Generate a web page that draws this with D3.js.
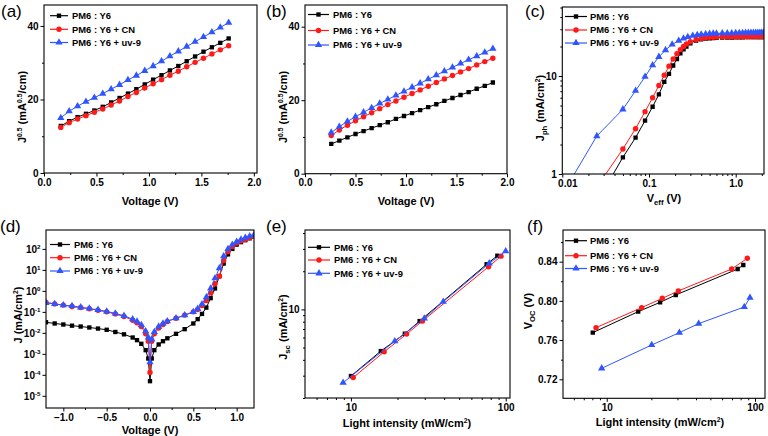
<!DOCTYPE html>
<html><head><meta charset="utf-8">
<script src="https://cdn.jsdelivr.net/npm/d3@7"></script>
<style>body{margin:0;background:#fff}svg{display:block}</style>
</head><body>
<script>
// ---------- DATA ----------
const legendNames = ["PM6 : Y6", "PM6 : Y6 + CN", "PM6 : Y6 + uv-9"];

// (a) hole-only SCLC
const aVoltage = [0.16,0.24,0.32,0.40,0.48,0.56,0.64,0.72,0.80,0.88,0.96,1.04,1.12,1.20,1.28,1.36,1.44,1.52,1.60,1.68,1.76];
const aY6 = [12.8,14.1,15.2,16.1,17.0,18.0,19.2,20.4,21.6,22.8,24.1,25.4,26.6,27.9,29.1,30.4,31.7,33.0,34.2,35.4,36.6];
const aCN = [12.4,13.7,14.7,15.6,16.5,17.4,18.5,19.6,20.8,21.9,23.1,24.3,25.4,26.6,27.7,28.9,30.1,31.2,32.4,33.5,34.6];
const aUV = [15.0,16.8,18.2,19.4,20.5,21.6,22.8,24.0,25.3,26.5,27.8,29.1,30.4,31.8,33.1,34.4,35.7,37.0,38.3,39.6,40.9];

// (b) electron-only SCLC
const bVoltage = [0.26,0.34,0.42,0.50,0.58,0.66,0.74,0.82,0.90,0.98,1.06,1.14,1.22,1.30,1.38,1.46,1.54,1.62,1.70,1.78,1.86];
const bY6 = [8.1,9.0,9.9,10.8,11.6,12.4,13.2,14.0,14.9,15.7,16.5,17.3,18.1,18.9,19.8,20.6,21.4,22.2,23.1,23.9,24.8];
const bCN = [10.4,11.9,13.2,14.4,15.5,16.6,17.7,18.8,19.8,20.8,21.8,22.8,23.8,24.8,25.8,26.7,27.7,28.6,29.6,30.5,31.4];
const bUV = [11.2,12.8,14.2,15.5,16.7,17.9,19.1,20.2,21.3,22.4,23.5,24.6,25.7,26.8,27.9,28.9,30.0,31.0,32.0,33.0,34.0];

// (c) Jph vs Veff
const cVeff = [0.03,0.05,0.07,0.09,0.11,0.13,0.15,0.17,0.19,0.21,0.23,0.25,0.27,0.30,0.35,0.40,0.45,0.50,0.55,0.60,0.70,0.80,0.90,1.00,1.10,1.20,1.30,1.40,1.50,1.60,1.70,1.80,1.90,2.00,2.10];
const cY6 = [0.68,1.48,2.35,3.5,4.85,6.5,8.7,10.5,12.8,14.9,17.0,18.7,20.0,21.6,23.0,23.7,24.1,24.3,24.4,24.5,24.6,24.7,24.7,24.8,24.8,24.8,24.9,24.9,24.9,24.9,25.0,25.0,25.0,25.0,25.0];
const cCN = [0.93,1.8,2.9,4.33,6.0,8.0,10.2,12.6,14.9,16.9,18.6,20.0,21.2,22.4,23.6,24.2,24.6,24.8,24.9,25.0,25.1,25.2,25.2,25.2,25.3,25.3,25.3,25.3,25.4,25.4,25.4,25.4,25.4,25.4,25.4];
const cVeffUV = [0.01,0.025,0.05,0.07,0.09,0.11,0.13,0.155,0.185,0.22,0.25,0.28,0.32,0.36,0.40,0.45,0.50,0.55,0.60,0.70,0.80,0.90,1.00,1.10,1.20,1.30,1.40,1.50,1.60,1.70,1.80,1.90,2.00,2.10];
const cUV = [0.62,2.44,4.57,7.08,9.84,12.9,15.7,18.4,21.0,22.9,24.2,25.1,25.8,26.3,26.6,26.8,27.0,27.1,27.2,27.3,27.4,27.4,27.5,27.5,27.5,27.6,27.6,27.6,27.6,27.7,27.7,27.7,27.7,27.7];

// (d) dark J-V
const dVoltage = [-1.2,-1.1,-1.0,-0.9,-0.8,-0.7,-0.6,-0.5,-0.4,-0.3,-0.2,-0.15,-0.1,-0.05,-0.02,0,0.02,0.05,0.1,0.15,0.2,0.3,0.4,0.5,0.55,0.6,0.65,0.7,0.75,0.8,0.85,0.9,0.95,1.0,1.05,1.1,1.15,1.2];
const dY6 = [0.032,0.028,0.025,0.022,0.020,0.018,0.016,0.014,0.011,0.0085,0.006,0.0045,0.003,0.0015,0.0006,0.00005,0.0006,0.0015,0.0028,0.004,0.0055,0.009,0.015,0.028,0.045,0.08,0.16,0.45,1.3,5,20,55,100,160,210,260,320,380];
const dCN = [0.28,0.24,0.21,0.18,0.16,0.14,0.12,0.10,0.08,0.06,0.04,0.03,0.02,0.009,0.004,0.00013,0.004,0.009,0.017,0.025,0.035,0.05,0.07,0.1,0.13,0.2,0.35,0.8,2.2,5,28,75,130,190,240,290,340,400];
const dUV = [0.27,0.24,0.21,0.19,0.165,0.145,0.125,0.105,0.085,0.065,0.045,0.035,0.024,0.012,0.006,0.0004,0.005,0.011,0.02,0.028,0.036,0.05,0.07,0.1,0.14,0.23,0.5,1.3,4,12,45,100,160,220,280,340,400,460];

// (e) Jsc vs light intensity
const eIntY6 = [10,15.6,22.3,27.8,75.3,88.3];
const eJscY6 = [2.98,4.69,6.43,8.09,22.7,26.5];
const eIntCN = [10.35,16.4,22.9,29.0,77.5,93.3];
const eJscCN = [2.9,4.63,6.39,8.09,21.7,26.3];
const eIntUV = [8.9,19.2,29.8,39.5,78.3,100];
const eJscUV = [2.64,5.62,8.49,11.5,23.1,28.8];

// (f) Voc vs light intensity
const fIntY6 = [8.05,16.3,22.9,29.2,76.4,83.4];
const fVocY6 = [0.7676,0.789,0.7985,0.806,0.8325,0.8366];
const fIntCN = [8.47,17.2,23.7,30.4,69.6,88.7];
const fVocCN = [0.7727,0.7931,0.8026,0.8101,0.8325,0.8434];
const fIntUV = [9.25,20.1,30.9,41.7,84.7,92.5];
const fVocUV = [0.7312,0.755,0.7676,0.7768,0.7938,0.8033];

// tick values / labels
const aXTicks = [0,0.5,1,1.5,2], aYTicks = [0,20,40];
const cXTicks = [0.01,0.1,1], cXTickLabels = ["0.01","0.1","1.0"], cYTicks = [1,10];
const dXTicks = [-1,-0.5,0,0.5,1], dYExp = [-5,-4,-3,-2,-1,0,1,2];
const eXTicks = [10,100], eYTicks = [10];
const fXTicks = [10,100], fYTicks = [0.72,0.76,0.80,0.84];

// ---------- DRAWING ----------
const FONT = "'Liberation Sans', Arial, Helvetica, sans-serif";
const colors = ['#000000', '#ff1a1a', '#2f55ff'];
const shapes = [d3.symbolSquare, d3.symbolCircle, d3.symbolTriangle];
const sizes = [19, 23, 23];
const svg = d3.select('body').append('svg').attr('width', 768).attr('height', 436);
const defs = svg.append('defs');

function rich(sel, parts, fs) {
  let shift = 0;
  parts.forEach(p => {
    const t = sel.append('tspan').text(p.t);
    let target = 0;
    if (p.sup) { target = -fs * 0.38; t.attr('font-size', fs * 0.62); }
    else if (p.sub) { target = fs * 0.28; t.attr('font-size', fs * 0.7); }
    if (target !== shift) { t.attr('dy', target - shift); shift = target; }
  });
}

function styleAxis(g, fs) {
  g.select('.domain').remove();
  g.selectAll('.tick line').attr('stroke', '#000').attr('stroke-width', 1);
  g.selectAll('.tick text').attr('fill', '#000').attr('font-size', fs).attr('font-weight', 'bold').attr('font-family', FONT);
  g.attr('font-family', FONT);
}

function panel(c) {
  const g = svg.append('g');
  const x = (c.xLog ? d3.scaleLog() : d3.scaleLinear()).domain(c.xDomain).range([c.L, c.R]);
  const y = (c.yLog ? d3.scaleLog() : d3.scaleLinear()).domain(c.yDomain).range([c.B, c.T]);
  const id = 'clip-' + c.name;
  defs.append('clipPath').attr('id', id).append('rect')
    .attr('x', c.L).attr('y', c.T).attr('width', c.R - c.L).attr('height', c.B - c.T);

  // axes
  const xa = g.append('g').attr('transform', `translate(0,${c.B})`)
    .call(d3.axisBottom(x).tickValues(c.xTicks).tickFormat(c.xFmt).tickSize(3.5).tickPadding(2));
  styleAxis(xa, 10);
  if (c.xFirstShift) xa.select('.tick text').attr('dx', c.xFirstShift);
  if (c.xMinor) {
    const xm = g.append('g').attr('transform', `translate(0,${c.B})`)
      .call(d3.axisBottom(x).tickValues(c.xMinor).tickFormat('').tickSize(2));
    styleAxis(xm, 10);
  }
  const ya = g.append('g').attr('transform', `translate(${c.L},0)`)
    .call(d3.axisLeft(y).tickValues(c.yTicks).tickFormat(c.yFmt || '').tickSize(3.5).tickPadding(2));
  styleAxis(ya, 10);
  if (c.yRich) {
    ya.selectAll('.tick text').each(function(d) {
      const t = d3.select(this); t.text('');
      rich(t, c.yRich(d), 10);
    });
  }
  if (c.yMinor) {
    const ym = g.append('g').attr('transform', `translate(${c.L},0)`)
      .call(d3.axisLeft(y).tickValues(c.yMinor).tickFormat('').tickSize(2));
    styleAxis(ym, 10);
  }

  // data
  const plot = g.append('g').attr('clip-path', `url(#${id})`);
  c.series.forEach((s, i) => {
    const pts = d3.zip(s.x, s.y);
    plot.append('path').datum(pts)
      .attr('d', d3.line().x(d => x(d[0])).y(d => y(d[1])))
      .attr('fill', 'none').attr('stroke', colors[i]).attr('stroke-width', 1);
    plot.append('g').selectAll('path').data(pts).join('path')
      .attr('transform', d => `translate(${x(d[0])},${y(d[1])})`)
      .attr('d', d3.symbol(shapes[i], sizes[i])).attr('fill', colors[i]);
  });

  // frame
  g.append('rect').attr('x', c.L).attr('y', c.T).attr('width', c.R - c.L).attr('height', c.B - c.T)
    .attr('fill', 'none').attr('stroke', '#000').attr('stroke-width', 1.1);

  // legend
  const lg = g.append('g');
  c.leg.ys.forEach((yy, i) => {
    lg.append('line').attr('x1', c.leg.x0).attr('x2', c.leg.x1).attr('y1', yy).attr('y2', yy)
      .attr('stroke', colors[i]).attr('stroke-width', 1.2);
    lg.append('path').attr('transform', `translate(${(c.leg.x0 + c.leg.x1) / 2},${yy})`)
      .attr('d', d3.symbol(shapes[i], sizes[i])).attr('fill', colors[i]);
    lg.append('text').attr('x', c.leg.tx).attr('y', yy + 3.4).text(legendNames[i])
      .attr('font-family', FONT).attr('font-weight', 'bold').attr('font-size', 9.4).attr('fill', '#000');
  });

  // x title
  const xt = g.append('text').attr('x', c.xTitlePos[0]).attr('y', c.xTitlePos[1])
    .attr('text-anchor', 'middle').attr('font-family', FONT).attr('font-weight', 'bold').attr('font-size', 11);
  rich(xt, c.xTitle, 11);
  // y title
  const yt = g.append('text').attr('transform', `translate(${c.yTitlePos[0]},${c.yTitlePos[1]}) rotate(-90)`)
    .attr('text-anchor', 'middle').attr('font-family', FONT).attr('font-weight', 'bold').attr('font-size', 11);
  rich(yt, c.yTitle, 11);
  // letter
  g.append('text').attr('x', c.letterPos[0]).attr('y', c.letterPos[1]).text(c.letter)
    .attr('font-family', FONT).attr('font-size', 17).attr('fill', '#000');
}

const f1 = d3.format('.1f');
const log10Minor = (lo, hi) => { const out = []; for (let e = lo; e < hi; e++) for (let m = 2; m <= 9; m++) out.push(m * Math.pow(10, e)); return out; };

panel({
  name: 'a', letter: '(a)', letterPos: [1, 17],
  L: 44, R: 257, T: 5, B: 173,
  xDomain: [0, 2.03], yDomain: [0, 45.7],
  xTicks: aXTicks, xFmt: f1, xMinor: [0.25, 0.75, 1.25, 1.75],
  yTicks: aYTicks, yFmt: d3.format('d'), yMinor: [10, 30],
  series: [{x: aVoltage, y: aY6}, {x: aVoltage, y: aCN}, {x: aVoltage, y: aUV}],
  leg: {x0: 50, x1: 68, tx: 72, ys: [15.7, 29.3, 42.5]},
  xTitle: [{t: 'Voltage (V)'}], xTitlePos: [150, 205],
  yTitle: [{t: 'J'}, {t: '0.5', sup: true}, {t: ' (mA'}, {t: '0.5', sup: true}, {t: '/cm)'}], yTitlePos: [26, 107]
});

panel({
  name: 'b', letter: '(b)', letterPos: [266, 17],
  L: 305, R: 507, T: 5, B: 173.7,
  xDomain: [0, 2.0], yDomain: [0, 45.9],
  xTicks: aXTicks, xFmt: f1, xMinor: [0.25, 0.75, 1.25, 1.75],
  yTicks: aYTicks, yFmt: d3.format('d'), yMinor: [10, 30],
  series: [{x: bVoltage, y: bY6}, {x: bVoltage, y: bCN}, {x: bVoltage, y: bUV}],
  leg: {x0: 308, x1: 329, tx: 333, ys: [14.5, 30.5, 45]},
  xTitle: [{t: 'Voltage (V)'}], xTitlePos: [406, 205],
  yTitle: [{t: 'J'}, {t: '0.5', sup: true}, {t: ' (mA'}, {t: '0.5', sup: true}, {t: '/cm)'}], yTitlePos: [287, 107]
});

panel({
  name: 'c', letter: '(c)', letterPos: [525, 17],
  L: 562.3, R: 764, T: 7, B: 174, xLog: true, yLog: true,
  xDomain: [0.01, 2.12], yDomain: [1, 50.6],
  xTicks: cXTicks, xFmt: (d, i) => cXTickLabels[i], xFirstShift: 5, xMinor: log10Minor(-2, 0).concat([2]),
  yTicks: cYTicks, yFmt: d3.format('d'), yMinor: log10Minor(0, 1).concat([20, 30, 40, 50]),
  series: [{x: cVeff, y: cY6}, {x: cVeff, y: cCN}, {x: cVeffUV, y: cUV}],
  leg: {x0: 565, x1: 587, tx: 590, ys: [16.5, 30, 43]},
  xTitle: [{t: 'V'}, {t: 'eff', sub: true}, {t: ' (V)'}], xTitlePos: [664, 202],
  yTitle: [{t: 'J'}, {t: 'ph', sub: true}, {t: ' (mA/cm'}, {t: '2', sup: true}, {t: ')'}], yTitlePos: [544, 108]
});

panel({
  name: 'd', letter: '(d)', letterPos: [0, 232],
  L: 46, R: 254, T: 230, B: 408, yLog: true,
  xDomain: [-1.2, 1.2], yDomain: [Math.pow(10, -5.58), Math.pow(10, 2.9)],
  xTicks: dXTicks, xFmt: f1, xMinor: [-0.75, -0.25, 0.25, 0.75],
  yTicks: dYExp.map(e => Math.pow(10, e)), yFmt: d => 'x',
  yRich: d => [{t: '10'}, {t: String(Math.round(Math.log10(d))), sup: true}],
  series: [{x: dVoltage, y: dY6}, {x: dVoltage, y: dCN}, {x: dVoltage, y: dUV}],
  leg: {x0: 50, x1: 70, tx: 74, ys: [244.5, 257.7, 271]},
  xTitle: [{t: 'Voltage (V)'}], xTitlePos: [150, 433.5],
  yTitle: [{t: 'J (mA/cm'}, {t: '2', sup: true}, {t: ')'}], yTitlePos: [22, 315]
});

panel({
  name: 'e', letter: '(e)', letterPos: [266, 232],
  L: 305, R: 510, T: 230, B: 398, xLog: true, yLog: true,
  xDomain: [5.05, 106.6], yDomain: [2, 42.3],
  xTicks: eXTicks, xFmt: d3.format('d'), xMinor: [6, 7, 8, 9, 20, 30, 40, 50, 60, 70, 80, 90],
  yTicks: eYTicks, yFmt: d3.format('d'), yMinor: [2, 3, 4, 5, 6, 7, 8, 9, 20, 30, 40],
  series: [{x: eIntY6, y: eJscY6}, {x: eIntCN, y: eJscCN}, {x: eIntUV, y: eJscUV}],
  leg: {x0: 308, x1: 330, tx: 334, ys: [247.3, 260, 273.3]},
  xTitle: [{t: 'Light intensity (mW/cm'}, {t: '2', sup: true}, {t: ')'}], xTitlePos: [407, 427],
  yTitle: [{t: 'J'}, {t: 'sc', sub: true}, {t: ' (mA/cm'}, {t: '2', sup: true}, {t: ')'}], yTitlePos: [287, 327]
});

panel({
  name: 'f', letter: '(f)', letterPos: [527, 232],
  L: 563, R: 765, T: 230, B: 398.3, xLog: true,
  xDomain: [5.07, 116.8], yDomain: [0.7006, 0.8723],
  xTicks: fXTicks, xFmt: d3.format('d'), xMinor: [6, 7, 8, 9, 20, 30, 40, 50, 60, 70, 80, 90],
  yTicks: fYTicks, yFmt: d3.format('.2f'), yMinor: [0.74, 0.78, 0.82, 0.86],
  series: [{x: fIntY6, y: fVocY6}, {x: fIntCN, y: fVocCN}, {x: fIntUV, y: fVocUV}],
  leg: {x0: 565, x1: 587, tx: 590, ys: [240.7, 255.7, 268.5]},
  xTitle: [{t: 'Light intensity (mW/cm'}, {t: '2', sup: true}, {t: ')'}], xTitlePos: [660, 426],
  yTitle: [{t: 'V'}, {t: 'OC', sub: true}, {t: ' (V)'}], yTitlePos: [532, 311]
});
</script>
</body></html>
